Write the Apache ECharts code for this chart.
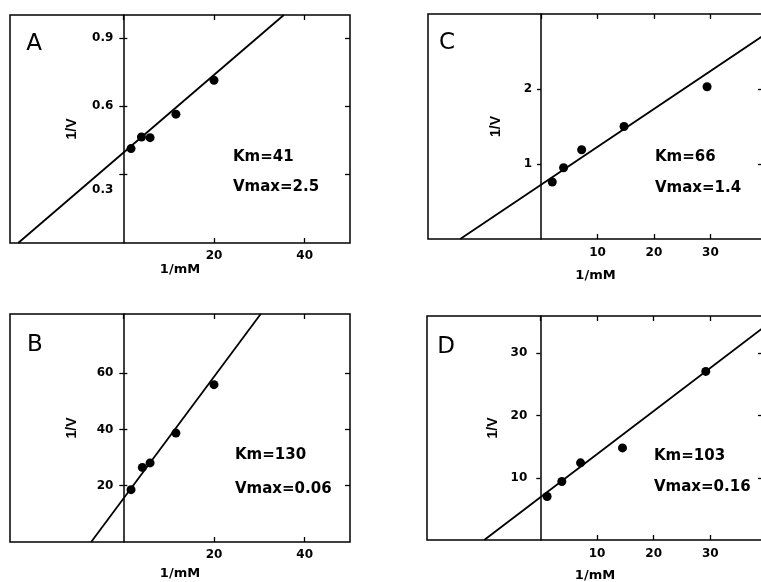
<!DOCTYPE html>
<html>
<head>
<meta charset="utf-8">
<script src="https://cdn.jsdelivr.net/npm/echarts@6/dist/echarts.min.js"></script>
<style>
  html, body { margin: 0; padding: 0; background: #fff; }
  #chart { width: 761px; height: 582px; }
</style>
</head>
<body>
<div id="chart"></div>
<script>
// panel A
var aX = [1.7, 4.0, 5.9, 11.6, 20];
var aY = [0.414, 0.465, 0.462, 0.565, 0.714];
var aLineX = [-23.2, 35.4];
var aLineY = [0, 1.0];
var aXTicks = [20, 40];
var aTopTicks = [0, 20, 40];
var aYTicks = [0.3, 0.6, 0.9];
var aNotes = ['Km=41', 'Vmax=2.5'];

// panel B
var bX = [1.7, 4.2, 5.9, 11.6, 20];
var bY = [18.6, 26.5, 28.1, 38.7, 55.9];
var bLineX = [-7.1, 30.3];
var bLineY = [0, 81];
var bXTicks = [20, 40];
var bTopTicks = [0, 20, 40];
var bYTicks = [20, 40, 60];
var bNotes = ['Km=130', 'Vmax=0.06'];

// panel C
var cX = [2.0, 4.0, 7.2, 14.7, 29.4];
var cY = [0.76, 0.95, 1.19, 1.50, 2.03];
var cLineX = [-14.3, 39.3];
var cLineY = [0, 2.71];
var cXTicks = [10, 20, 30];
var cTopTicks = [0, 10, 20, 30];
var cYTicks = [1, 2];
var cNotes = ['Km=66', 'Vmax=1.4'];

// panel D
var dX = [1.2, 3.8, 7.1, 14.5, 29.2];
var dY = [7.0, 9.4, 12.4, 14.8, 27.1];
var dLineX = [-9.9, 39.3];
var dLineY = [0, 34.1];
var dXTicks = [10, 20, 30];
var dTopTicks = [0, 10, 20, 30];
var dYTicks = [10, 20, 30];
var dNotes = ['Km=103', 'Vmax=0.16'];

var font = 'DejaVu Sans';
var ink = '#000';

var panels = [
  { letter: 'A', x: aX, y: aY, lx: aLineX, ly: aLineY, xt: aXTicks, tt: aTopTicks, yt: aYTicks, notes: aNotes,
    xMin: -25, xMax: 50, yMin: 0, yMax: 1.0, crossTicks: true,
    grid: { left: 10, top: 15, width: 340, height: 228 },
    xNameGap: 19, yNameGap: 45, xLabelMargin: 7, yLabelMargin: 10,
    letterPos: [34, 44], notePos: [233, 157, 187] },
  { letter: 'B', x: bX, y: bY, lx: bLineX, ly: bLineY, xt: bXTicks, tt: bTopTicks, yt: bYTicks, notes: bNotes,
    xMin: -25, xMax: 50, yMin: 0, yMax: 81, crossTicks: true,
    grid: { left: 10, top: 314, width: 340, height: 228 },
    xNameGap: 25, yNameGap: 45, xLabelMargin: 7, yLabelMargin: 10,
    letterPos: [35, 345], notePos: [235, 455, 489] },
  { letter: 'C', x: cX, y: cY, lx: cLineX, ly: cLineY, xt: cXTicks, tt: cTopTicks, yt: cYTicks, notes: cNotes,
    xMin: -20, xMax: 39.3, yMin: 0, yMax: 3, crossTicks: false,
    grid: { left: 428, top: 14, width: 335, height: 225 },
    xNameGap: 30, yNameGap: 39, xLabelMargin: 8, yLabelMargin: 9,
    letterPos: [447, 43], notePos: [655, 157, 188] },
  { letter: 'D', x: dX, y: dY, lx: dLineX, ly: dLineY, xt: dXTicks, tt: dTopTicks, yt: dYTicks, notes: dNotes,
    xMin: -20, xMax: 39.3, yMin: 0, yMax: 36, crossTicks: false,
    grid: { left: 427, top: 316, width: 336, height: 224 },
    xNameGap: 29, yNameGap: 41, xLabelMargin: 8, yLabelMargin: 13,
    letterPos: [446, 347], notePos: [654, 456, 487] }
];

var grids = [], xAxes = [], yAxes = [], series = [], graphics = [];
var tickStyle = { color: ink, width: 1.3 };

panels.forEach(function(p, i) {
  grids.push({
    left: p.grid.left, top: p.grid.top, width: p.grid.width, height: p.grid.height,
    outerBoundsMode: 'none', containLabel: false,
    show: true, borderColor: ink, borderWidth: 1.5, backgroundColor: 'transparent'
  });

  // bottom axis with labels
  var xIdx = xAxes.length;
  xAxes.push({
    type: 'value', gridIndex: i, min: p.xMin, max: p.xMax, position: 'bottom',
    name: '1/mM', nameLocation: 'middle', nameGap: p.xNameGap,
    nameTextStyle: { fontFamily: font, fontWeight: 'bold', fontSize: 13, color: ink },
    axisLine: { show: false, onZero: false },
    axisTick: { show: true, inside: true, length: 5, customValues: p.xt, lineStyle: tickStyle },
    axisLabel: { customValues: p.xt, margin: p.xLabelMargin, fontFamily: font, fontWeight: 'bold', fontSize: 12, color: ink },
    splitLine: { show: false }
  });
  // top frame ticks
  xAxes.push({
    type: 'value', gridIndex: i, min: p.xMin, max: p.xMax, position: 'top',
    axisLine: { show: false, onZero: false },
    axisTick: { show: true, inside: true, length: 5, customValues: p.tt, lineStyle: tickStyle },
    axisLabel: { show: false },
    splitLine: { show: false }
  });

  // y axis moved onto x = 0
  var zeroShift = p.grid.width * (0 - p.xMin) / (p.xMax - p.xMin);
  var yIdx = yAxes.length;
  yAxes.push({
    type: 'value', gridIndex: i, min: p.yMin, max: p.yMax, position: 'left', offset: -zeroShift,
    name: '1/V', nameLocation: 'middle', nameGap: p.yNameGap - 1,
    nameTextStyle: { fontFamily: 'Liberation Sans', fontWeight: 'bold', fontSize: 14, color: ink },
    axisLine: { show: true, onZero: false, lineStyle: { color: ink, width: 1.5 } },
    axisTick: { show: true, length: 4, customValues: p.yt, lineStyle: tickStyle },
    axisLabel: {
      customValues: p.yt, margin: p.yLabelMargin, fontFamily: font, fontWeight: 'bold', fontSize: 12, color: ink,
      formatter: function(v) {
        if (p.letter === 'A' && v === 0.3) return '{low|0.3}';
        return String(v);
      },
      rich: { low: { padding: [30, 0, 0, 0], fontFamily: font, fontWeight: 'bold', fontSize: 12, color: ink } }
    },
    splitLine: { show: false }
  });
  // right frame ticks
  yAxes.push({
    type: 'value', gridIndex: i, min: p.yMin, max: p.yMax, position: 'right',
    axisLine: { show: false, onZero: false },
    axisTick: { show: true, inside: true, length: 5, customValues: p.yt, lineStyle: tickStyle },
    axisLabel: { show: false },
    splitLine: { show: false }
  });
  // the other half of the cross ticks on the zero line
  if (p.crossTicks) {
    yAxes.push({
      type: 'value', gridIndex: i, min: p.yMin, max: p.yMax, position: 'left', offset: -zeroShift,
      axisLine: { show: false, onZero: false },
      axisTick: { show: true, inside: true, length: 4, customValues: p.yt, lineStyle: tickStyle },
      axisLabel: { show: false },
      splitLine: { show: false }
    });
  }

  var pts = p.x.map(function(v, k) { return [v, p.y[k]]; });
  var fit = p.lx.map(function(v, k) { return [v, p.ly[k]]; });

  series.push({
    type: 'line', xAxisIndex: xIdx, yAxisIndex: yIdx, data: fit,
    showSymbol: false, symbol: 'none', silent: true,
    lineStyle: { color: ink, width: 1.8 }
  });
  series.push({
    type: 'scatter', xAxisIndex: xIdx, yAxisIndex: yIdx, data: pts,
    symbol: 'circle', symbolSize: 9, itemStyle: { color: ink, opacity: 1 }
  });

  graphics.push({
    type: 'text', x: p.letterPos[0], y: p.letterPos[1],
    style: { text: p.letter, fontFamily: font, fontSize: 23, fill: ink, align: 'center', verticalAlign: 'middle' }
  });
  graphics.push({
    type: 'text', x: p.notePos[0], y: p.notePos[1],
    style: { text: p.notes[0], fontFamily: font, fontWeight: 'bold', fontSize: 15, fill: ink, align: 'left', verticalAlign: 'middle' }
  });
  graphics.push({
    type: 'text', x: p.notePos[0], y: p.notePos[2],
    style: { text: p.notes[1], fontFamily: font, fontWeight: 'bold', fontSize: 15, fill: ink, align: 'left', verticalAlign: 'middle' }
  });
});

var chart = echarts.init(document.getElementById('chart'), null, { renderer: 'canvas' });
chart.setOption({
  animation: false,
  backgroundColor: '#fff',
  grid: grids,
  xAxis: xAxes,
  yAxis: yAxes,
  series: series,
  graphic: graphics
});
</script>
</body>
</html>
